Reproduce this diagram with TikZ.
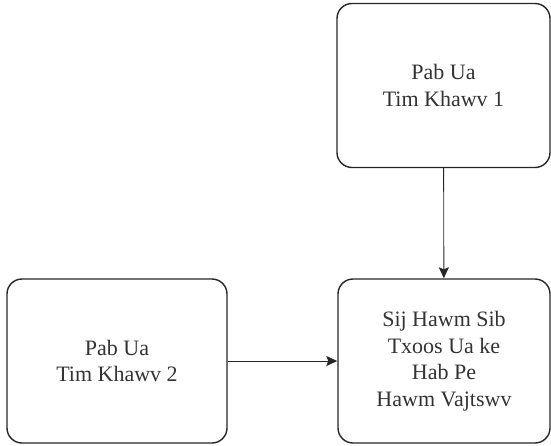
\documentclass[tikz,border=0pt]{standalone}
\usepackage{fontspec}
\setmainfont{Liberation Serif}
\usetikzlibrary{arrows.meta}
\begin{document}
\begin{tikzpicture}[x=1pt,y=-1pt,
  boxnode/.style={draw=black!85, line width=1.4pt, rounded corners=15pt, align=center,
    minimum height=164pt, inner sep=0pt, text=black!80,
    font=\fontsize{22}{26.5}\selectfont},
  conn/.style={draw=black!85, line width=0.9pt, -{Stealth[length=11pt,width=10pt,inset=2pt]}}]
\useasboundingbox (0,0) rectangle (551,445);
\node[boxnode, minimum width=213pt] (t1) at (443.5,85.5) {Pab Ua\\Tim Khawv 1};
\node[boxnode, minimum width=212pt] (res) at (444,361) {Sij Hawm Sib\\Txoos Ua ke\\Hab Pe\\Hawm Vajtswv};
\node[boxnode, minimum width=220pt] (t2) at (117,361) {Pab Ua\\Tim Khawv 2};
\draw[conn] (t1) -- (res);
\draw[conn] (t2) -- (res);
\end{tikzpicture}
\end{document}
